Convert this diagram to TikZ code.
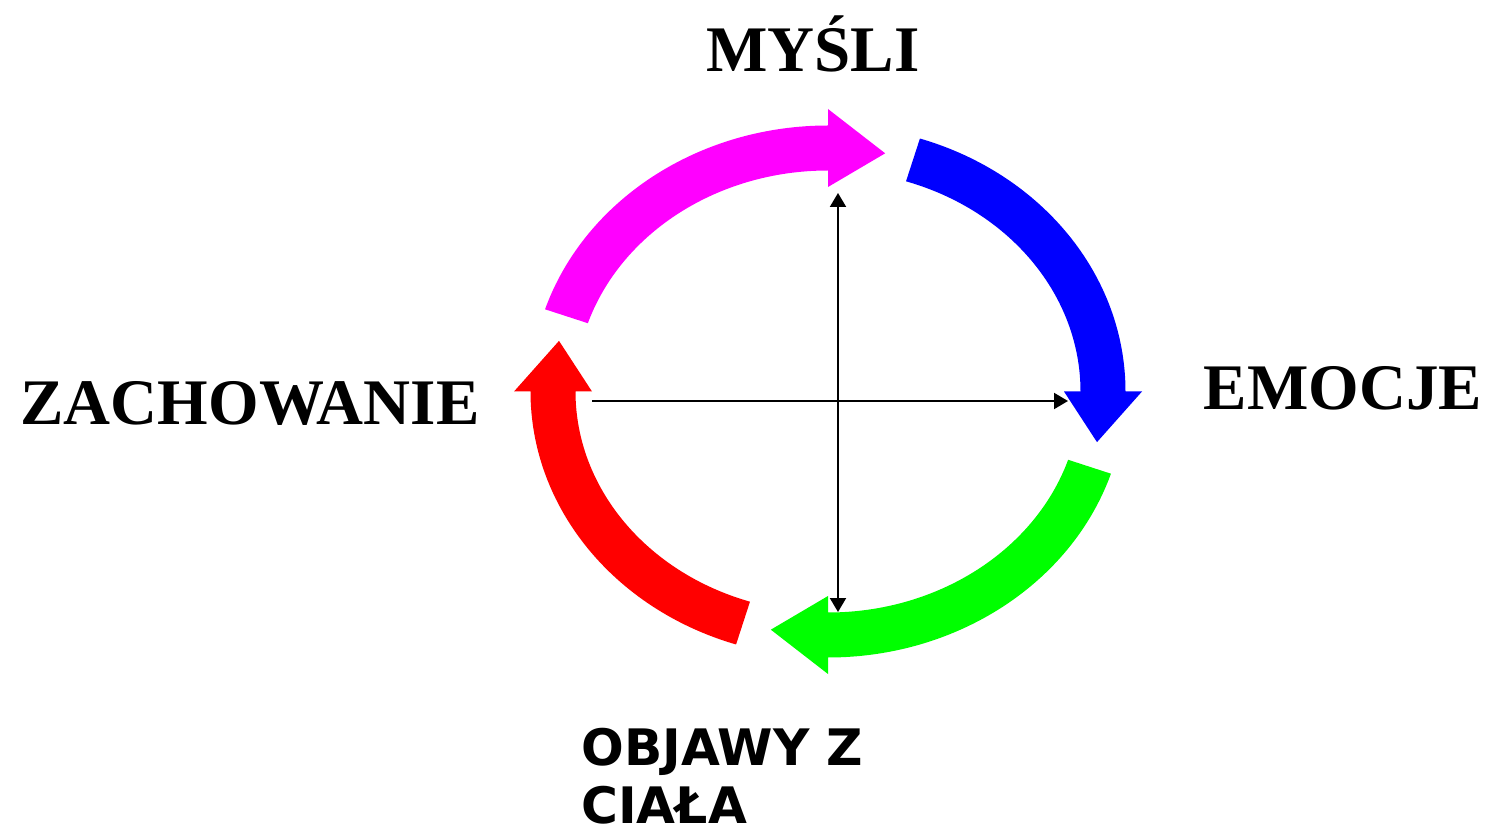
\documentclass[tikz,border=0pt]{standalone}
\usepackage{fontspec}
\setmainfont{Liberation Serif}
\newfontfamily\labelsans{DejaVu Sans}
\usetikzlibrary{arrows.meta}

\definecolor{thoughtpink}{RGB}{255,0,255}
\definecolor{bodygreen}{RGB}{0,255,0}

\tikzset{
  stage/.style={font=\fontsize{37}{44}\selectfont\bfseries, inner sep=0pt},
  axis/.style={line width=0.04cm, >={Triangle[length=0.28cm,width=0.32cm]}},
}

\begin{document}
\begin{tikzpicture}[x=0.02cm,y=0.02cm]
        \useasboundingbox (0,0) rectangle (1492,836);

        % labels
            \node[stage, anchor=base] (mysli) at (813,764) {MYŚLI};
            \node[stage, anchor=base] (emocje) at (1343,426) {EMOCJE};
            \node[stage, anchor=base] (zach) at (250,411) {ZACHOWANIE};
            \node[anchor=north west, align=left, inner sep=0pt,
                  font=\labelsans\bfseries\fontsize{28.6}{33}\selectfont] (objawy) at (581,108) {OBJAWY Z\\CIAŁA};

        % the cycle
        \begin{scope}[shift={(828,444.5)}]
            \fill[thoughtpink] (162:297.5 and 266) arc[start angle=162, end angle=90, x radius=297.5, y radius=266]
                  -- (90:314 and 282.5) -- (78:275 and 243.5) -- (90:236 and 204.5)
                  -- (90:252.5 and 221) arc[start angle=90, end angle=162, x radius=252.5, y radius=221] -- cycle;
            \fill[blue] (72:297.5 and 266) arc[start angle=72, end angle=0, x radius=297.5, y radius=266]
                  -- (0:314 and 282.5) -- (-12:275 and 243.5) -- (0:236 and 204.5)
                  -- (0:252.5 and 221) arc[start angle=0, end angle=72, x radius=252.5, y radius=221] -- cycle;
            \fill[bodygreen] (-18:297.5 and 266) arc[start angle=-18, end angle=-90, x radius=297.5, y radius=266]
                  -- (-90:314 and 282.5) -- (-102:275 and 243.5) -- (-90:236 and 204.5)
                  -- (-90:252.5 and 221) arc[start angle=-90, end angle=-18, x radius=252.5, y radius=221] -- cycle;
            \fill[red] (-108:297.5 and 266) arc[start angle=-108, end angle=-180, x radius=297.5, y radius=266]
                  -- (-180:314 and 282.5) -- (-192:275 and 243.5) -- (-180:236 and 204.5)
                  -- (-180:252.5 and 221) arc[start angle=-180, end angle=-108, x radius=252.5, y radius=221] -- cycle;
        \end{scope}

        % axes
            \coordinate (up) at (838,643);
            \coordinate (down) at (838,224);
            \coordinate (left) at (592,435);
            \coordinate (right) at (1068,435);
            \draw[axis, <->] (down) -- (up);
            \draw[axis, ->] (left) -- (right);
        \end{tikzpicture}
\end{document}
